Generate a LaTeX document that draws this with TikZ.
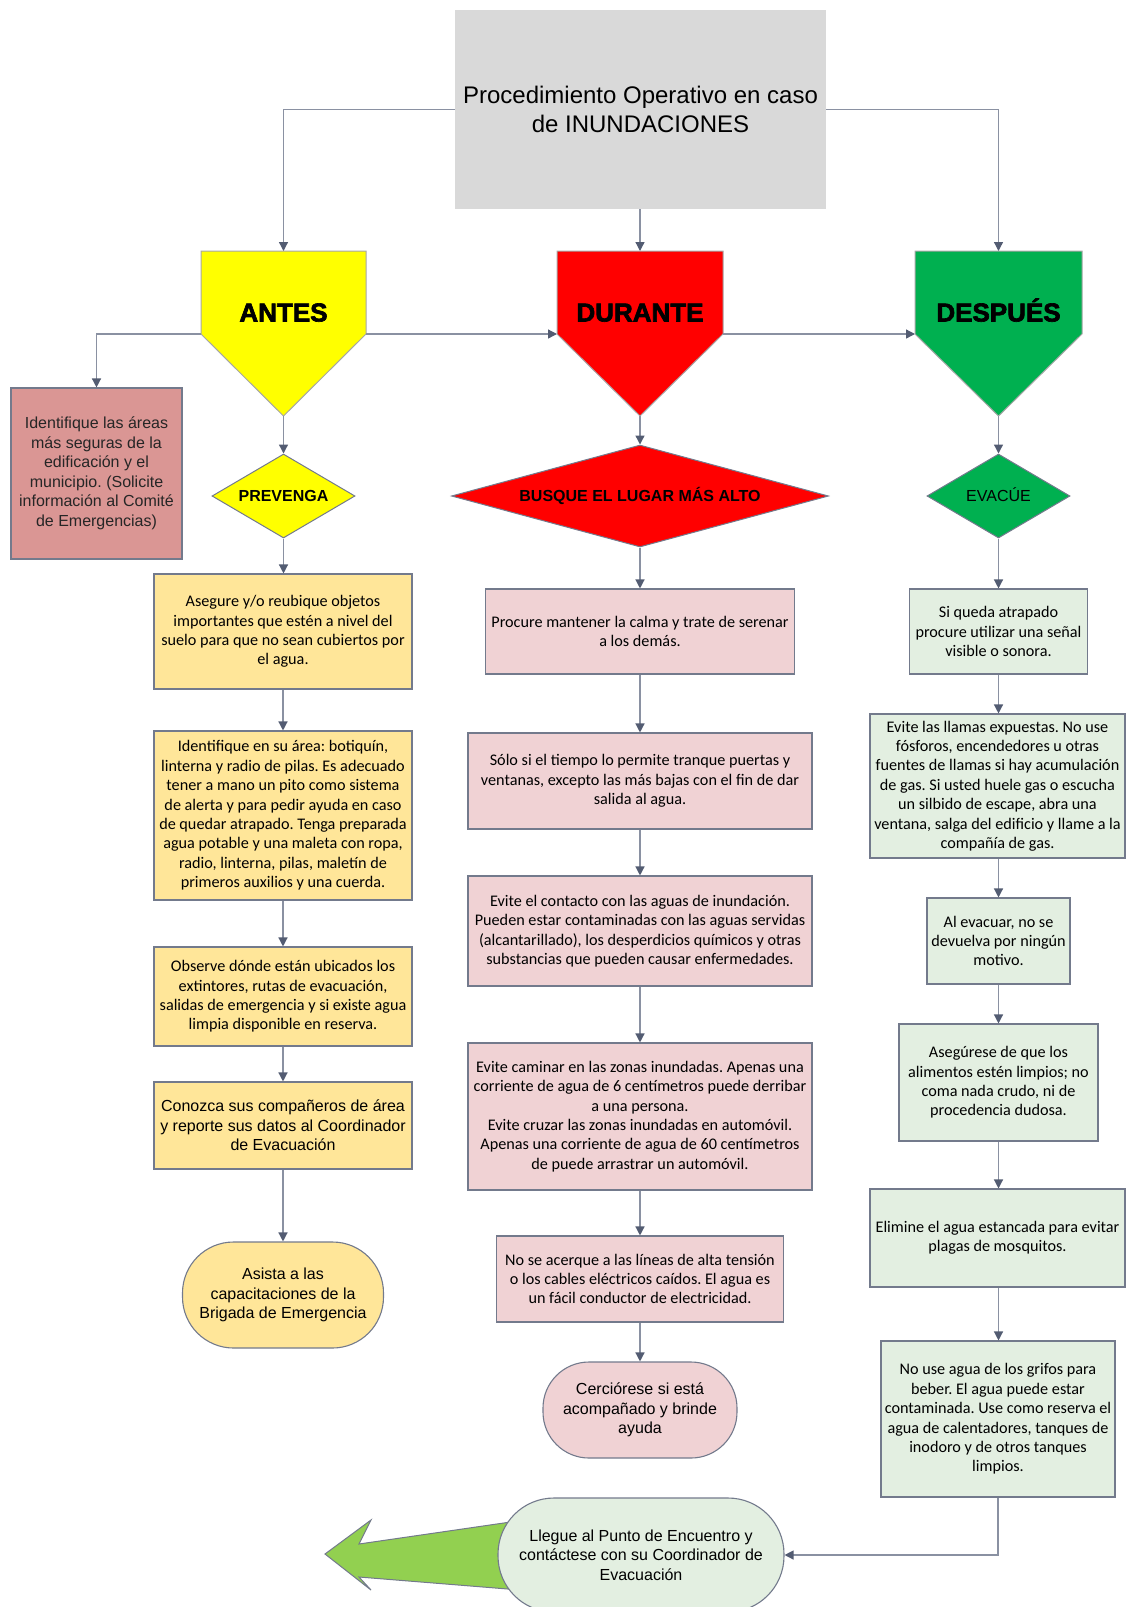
\documentclass[tikz,border=0pt]{standalone}
\usepackage{fontspec}
\setmainfont{Liberation Sans}
\newfontfamily\gill{Carlito}
\newfontfamily\heavy[BoldFeatures={FakeBold=2.5}]{Liberation Sans}
\usetikzlibrary{arrows.meta,shapes.geometric,calc}
\frenchspacing
\definecolor{linec}{HTML}{8A91A2}
\definecolor{tipc}{HTML}{535C72}
\definecolor{bordc}{HTML}{737A8C}
\definecolor{titlef}{HTML}{D9D9D9}
\definecolor{yel}{HTML}{FFFF00}
\definecolor{redf}{HTML}{FF0000}
\definecolor{grn}{HTML}{00B050}
\definecolor{rosef}{HTML}{DA9694}
\definecolor{goldf}{HTML}{FFE699}
\definecolor{pinkf}{HTML}{F0D2D4}
\definecolor{mintf}{HTML}{E3EFE1}
\definecolor{arrowf}{HTML}{92D050}
\definecolor{pentb}{HTML}{A6A6A6}
\definecolor{darktext}{HTML}{262626}
\tikzset{
  arr/.style={draw=linec, line width=1.3pt, -{Triangle[width=9pt,length=9pt,color=tipc]}},
  box/.style={draw=bordc, line width=1.1pt, rectangle, inner sep=0pt, align=center,
    font=\gill\frenchspacing\fontsize{16.2}{19.4}\selectfont},
  abox/.style={draw=bordc, line width=1.1pt, rectangle, inner sep=0pt, align=center,
    font=\frenchspacing\fontsize{16}{19.5}\selectfont},
  term/.style={abox},
  pent/.style={draw=pentb, line width=1pt},
  plabel/.style={font=\heavy\bfseries\fontsize{26}{30}\selectfont, anchor=base, inner sep=0pt},
  dia/.style={diamond, draw=bordc, line width=1pt, inner sep=0pt, text height=11.5pt, text depth=0pt,
    font=\fontsize{16}{19}\selectfont}
}
\begin{document}
\begin{tikzpicture}[x=1pt,y=-1pt]
\useasboundingbox (0,0) rectangle (1126,1607);
% title
\node[fill=titlef, minimum width=371pt, minimum height=199pt, inner sep=0pt, align=center,
  font=\fontsize{24}{29}\selectfont] (title) at (640.5,109.5)
  {Procedimiento Operativo en caso\\de INUNDACIONES};
% pentagons
\draw[pent, fill=yel] (201,251) -- (366,251) -- (366,334) -- (283.5,416) -- (201,334) -- cycle;
\draw[pent, fill=redf] (557,251) -- (723,251) -- (723,334) -- (640,416) -- (557,334) -- cycle;
\draw[pent, fill=grn] (915,251) -- (1082,251) -- (1082,334) -- (998.5,416) -- (915,334) -- cycle;
\node[plabel] (antes) at (283.5,321.5) {ANTES};
\node[plabel] (durante) at (640,321.5) {DURANTE};
\node[plabel] (despues) at (998.5,321.5) {DESPUÉS};
\coordinate (antesT) at (283.5,251);
\coordinate (antesL) at (201,334);
\coordinate (antesR) at (366,334);
\coordinate (antesB) at (283.5,416);
\coordinate (durT) at (640,251);
\coordinate (durL) at (557,334);
\coordinate (durR) at (723,334);
\coordinate (durB) at (640,416);
\coordinate (desT) at (998.5,251);
\coordinate (desL) at (915,334);
\coordinate (desB) at (998.5,416);
% diamonds
\node[dia, fill=yel, aspect=2, minimum width=143pt, minimum height=84pt, font=\bfseries\fontsize{16}{19}\selectfont] (prev) at (283.5,496) {PREVENGA};
\node[dia, fill=redf, aspect=4, minimum width=377pt, minimum height=102pt, font=\bfseries\fontsize{16}{19}\selectfont] (busq) at (640,496) {BUSQUE EL LUGAR MÁS ALTO};
\node[dia, fill=grn, aspect=2, minimum width=143pt, minimum height=84pt] (evac) at (998.5,496) {EVACÚE};
% red box
\node[abox, fill=rosef, text=darktext, minimum width=171pt, minimum height=171pt] (ident) at (96.5,473.5)
  {Identifique las áreas\\más seguras de la\\edificación y el\\municipio. (Solicite\\información al Comité\\de Emergencias)};
% column 1
\node[box, fill=goldf, minimum width=258pt, minimum height=115pt] (b1) at (283,631.5)
  {Asegure y/o reubique objetos\\importantes que estén a nivel del\\suelo para que no sean cubiertos por\\el agua.};
\node[box, fill=goldf, minimum width=258pt, minimum height=169pt] (b2) at (283,815.5)
  {Identifique en su área: botiquín,\\linterna y radio de pilas. Es adecuado\\tener a mano un pito como sistema\\de alerta y para pedir ayuda en caso\\de quedar atrapado. Tenga preparada\\agua potable y una maleta con ropa,\\radio, linterna, pilas, maletín de\\primeros auxilios y una cuerda.};
\node[box, fill=goldf, minimum width=258pt, minimum height=99pt] (b3) at (283,996.5)
  {Observe dónde están ubicados los\\extintores, rutas de evacuación,\\salidas de emergencia y si existe agua\\limpia disponible en reserva.};
\node[abox, fill=goldf, minimum width=258pt, minimum height=87pt] (b4) at (283,1125.5)
  {Conozca sus compañeros de área\\y reporte sus datos al Coordinador\\de Evacuación};
\node[term, fill=goldf, minimum width=201pt, minimum height=106pt, rounded corners=51pt] (t1) at (283,1295)
  {Asista a las\\capacitaciones de la\\Brigada de Emergencia};
% column 2
\node[box, fill=pinkf, minimum width=309pt, minimum height=85pt] (p1) at (640,631.5)
  {Procure mantener la calma y trate de serenar\\a los demás.};
\node[box, fill=pinkf, minimum width=344pt, minimum height=96pt] (p2) at (640,781)
  {Sólo si el tiempo lo permite tranque puertas y\\ventanas, excepto las más bajas con el fin de dar\\salida al agua.};
\node[box, fill=pinkf, minimum width=344pt, minimum height=110pt] (p3) at (640,931)
  {Evite el contacto con las aguas de inundación.\\Pueden estar contaminadas con las aguas servidas\\(alcantarillado), los desperdicios químicos y otras\\substancias que pueden causar enfermedades.};
\node[box, fill=pinkf, minimum width=344pt, minimum height=147pt] (p4) at (640,1116.5)
  {Evite caminar en las zonas inundadas. Apenas una\\corriente de agua de 6 centímetros puede derribar\\a una persona.\\Evite cruzar las zonas inundadas en automóvil.\\Apenas una corriente de agua de 60 centímetros\\de puede arrastrar un automóvil.};
\node[box, fill=pinkf, minimum width=287pt, minimum height=86pt] (p5) at (640,1279)
  {No se acerque a las líneas de alta tensión\\o los cables eléctricos caídos. El agua es\\un fácil conductor de electricidad.};
\node[term, fill=pinkf, minimum width=194pt, minimum height=96pt, rounded corners=46pt] (t2) at (640,1410)
  {Cerciórese si está\\acompañado y brinde\\ayuda};
% column 3
\node[box, fill=mintf, minimum width=178pt, minimum height=85pt] (d1) at (998.5,631.5)
  {Si queda atrapado\\procure utilizar una señal\\visible o sonora.};
\node[box, fill=mintf, minimum width=255pt, minimum height=144pt] (d2) at (997.5,786)
  {Evite las llamas expuestas. No use\\fósforos, encendedores u otras\\fuentes de llamas si hay acumulación\\de gas. Si usted huele gas o escucha\\un silbido de escape, abra una\\ventana, salga del edificio y llame a la\\compañía de gas.};
\node[box, fill=mintf, minimum width=143pt, minimum height=86pt] (d3) at (998.5,941)
  {Al evacuar, no se\\devuelva por ningún\\motivo.};
\node[box, fill=mintf, minimum width=199pt, minimum height=117pt] (d4) at (998.5,1082.5)
  {Asegúrese de que los\\alimentos estén limpios; no\\coma nada crudo, ni de\\procedencia dudosa.};
\node[box, fill=mintf, minimum width=255pt, minimum height=98pt] (d5) at (997.5,1238)
  {Elimine el agua estancada para evitar\\plagas de mosquitos.};
\node[box, fill=mintf, minimum width=234pt, minimum height=156pt] (d6) at (998,1419)
  {No use agua de los grifos para\\beber. El agua puede estar\\contaminada. Use como reserva el\\agua de calentadores, tanques de\\inodoro y de otros tanques\\limpios.};
% big green arrow and final terminator
\draw[draw=bordc, line width=1pt, fill=arrowf] (325,1554) -- (371,1520) -- (359,1544) -- (545,1517)
  -- (545,1592) -- (359,1577) -- (371,1590) -- cycle;
\node[term, fill=mintf, minimum width=286pt, minimum height=114pt, rounded corners=56pt] (fin) at (641,1555)
  {Llegue al Punto de Encuentro y\\contáctese con su Coordinador de\\Evacuación};
% connectors
\draw[arr] (title.west) -| (antesT);
\draw[arr] (title.east) -| (desT);
\draw[arr] (title.south -| durT) -- (durT);
\draw[arr] (antesR) -- (durL);
\draw[arr] (durR) -- (desL);
\draw[arr] (antesL) -| (ident.north);
\draw[arr] (antesB) -- (prev.north);
\draw[arr] (durB) -- (busq.north);
\draw[arr] (desB) -- (evac.north);
\draw[arr] (prev.south) -- (prev.south |- b1.north);
\draw[arr] (b1.south) -- (b1.south |- b2.north);
\draw[arr] (b2.south) -- (b2.south |- b3.north);
\draw[arr] (b3.south) -- (b3.south |- b4.north);
\draw[arr] (b4.south) -- (b4.south |- t1.north);
\draw[arr] (busq.south) -- (busq.south |- p1.north);
\draw[arr] (p1.south) -- (p1.south |- p2.north);
\draw[arr] (p2.south) -- (p2.south |- p3.north);
\draw[arr] (p3.south) -- (p3.south |- p4.north);
\draw[arr] (p4.south) -- (p4.south |- p5.north);
\draw[arr] (p5.south) -- (p5.south |- t2.north);
\draw[arr] (evac.south) -- (evac.south |- d1.north);
\draw[arr] (d1.south) -- (d1.south |- d2.north);
\draw[arr] (d2.south -| d1.south) -- (d1.south |- d3.north);
\draw[arr] (d3.south) -- (d3.south |- d4.north);
\draw[arr] (d4.south) -- (d4.south |- d5.north);
\draw[arr] (d5.south -| d4.south) -- (d4.south |- d6.north);
\draw[arr] (d6.south) |- (fin.east);
\end{tikzpicture}
\end{document}
